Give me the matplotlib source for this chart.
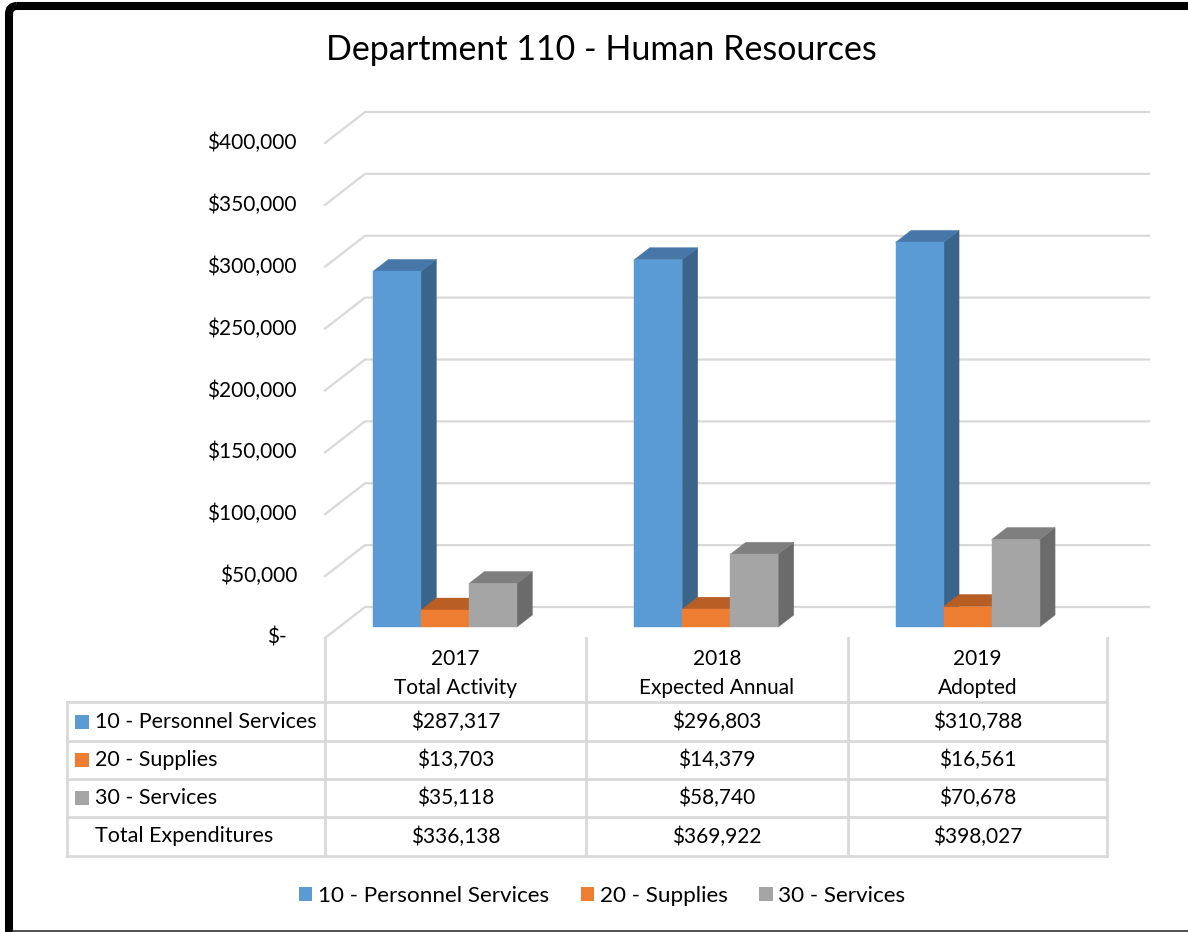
import matplotlib
matplotlib.use("Agg")
import matplotlib.pyplot as plt
from matplotlib.patches import Polygon, Patch, FancyBboxPatch
from matplotlib.transforms import blended_transform_factory

# ── data ────────────────────────────────────────────────────────────
TITLE = "Department 110 - Human Resources"
years = ["2017", "2018", "2019"]
periods = ["Total Activity", "Expected Annual", "Adopted"]
series_names = ["10 - Personnel Services", "20 - Supplies", "30 - Services"]
personnel = [287317, 296803, 310788]
supplies = [13703, 14379, 16561]
services = [35118, 58740, 70678]
totals = [336138, 369922, 398027]
y_ticks = [0, 50000, 100000, 150000, 200000, 250000, 300000, 350000, 400000]

# front / side / top shades for each series
FRONT = ["#5b9bd5", "#ed7d31", "#a5a5a5"]
SIDE = ["#3a6489", "#b35a22", "#6b6b6b"]
TOP = ["#4677a8", "#b85e24", "#7f7f7f"]
GRID = "#d9d9d9"

plt.rcParams["font.family"] = ["Lato", "DejaVu Sans"]

# ── layout (pixels) ─────────────────────────────────────────────────
W, H = 1188, 932
PLOT_L, PLOT_R = 325, 1109
PLOT_T, PLOT_B = 143, 638
CAT_PX = (PLOT_R - PLOT_L) / len(years)
VMAX = y_ticks[-1]
PX_PER_VAL = (PLOT_B - PLOT_T) / VMAX

# oblique depth offset of the back wall
DX = 40 / CAT_PX
DY = 31 / PX_PER_VAL
BAR_W = 48 / CAT_PX
BAR_X0 = 0.129
D_FRONT, D_BACK = 0.355, 0.742

FS = 15

fig = plt.figure(figsize=(W / 100, H / 100), dpi=100)

# full-figure overlay in pixel coordinates for frame, table, title
bg = fig.add_axes([0, 0, 1, 1])
bg.set_xlim(0, W)
bg.set_ylim(H, 0)
bg.axis("off")

ax = fig.add_axes([PLOT_L / W, 1 - PLOT_B / H,
                   (PLOT_R - PLOT_L) / W, (PLOT_B - PLOT_T) / H])
ax.set_xlim(0, len(years))
ax.set_ylim(0, VMAX)
ax.axis("off")
ax.patch.set_alpha(0)


def proj(x, v, d):
    return (x + d * DX, v + d * DY)


# walls: diagonal on the side wall, then horizontal along the back
for v in y_ticks:
    pts = [proj(0, v, 0), proj(0, v, 1), proj(len(years), v, 1)]
    ax.plot([p[0] for p in pts], [p[1] for p in pts], color=GRID,
            lw=1.6, clip_on=False, zorder=1, solid_joinstyle="miter")

# y labels
ylab_tr = blended_transform_factory(ax.transAxes, ax.transData)
for v in y_ticks:
    label = f"${v:,.0f}" if v else "$-"
    off = 28 if v else 38
    ax.text(-off / (PLOT_R - PLOT_L), v, label, transform=ylab_tr,
            ha="right", va="center", fontsize=FS, color="black")

# 3-D columns
values = [personnel, supplies, services]
z = 3
for i in range(len(years)):
    for s, vals in enumerate(values):
        v = vals[i]
        x0 = i + BAR_X0 + s * BAR_W
        x1 = x0 + BAR_W
        side = [proj(x1, 0, D_FRONT), proj(x1, 0, D_BACK),
                proj(x1, v, D_BACK), proj(x1, v, D_FRONT)]
        top = [proj(x0, v, D_FRONT), proj(x1, v, D_FRONT),
               proj(x1, v, D_BACK), proj(x0, v, D_BACK)]
        front = [proj(x0, 0, D_FRONT), proj(x1, 0, D_FRONT),
                 proj(x1, v, D_FRONT), proj(x0, v, D_FRONT)]
        for poly, col in ((side, SIDE[s]), (top, TOP[s]), (front, FRONT[s])):
            ax.add_patch(Polygon(poly, closed=True, fc=col, ec=col, lw=0.3,
                                 zorder=z, clip_on=False))
        z += 1

# ── data table ──────────────────────────────────────────────────────
TBL_L = 67
col_edges = [PLOT_L + k * CAT_PX for k in range(len(years) + 1)]
col_edges[-1] -= 2
row_edges = [702, 741, 779, 817, 856]
TBL_TOP = PLOT_B
for x in col_edges:
    bg.plot([x, x], [TBL_TOP, row_edges[-1]], color=GRID, lw=2)
bg.plot([TBL_L, TBL_L], [row_edges[0], row_edges[-1]], color=GRID, lw=2)
for y in row_edges:
    bg.plot([TBL_L, col_edges[-1]], [y, y], color=GRID, lw=2)

for i in range(len(years)):
    cx = (col_edges[i] + col_edges[i + 1]) / 2
    bg.text(cx, 659, years[i], ha="center", va="center", fontsize=FS)
    bg.text(cx, 688, periods[i], ha="center", va="center", fontsize=FS)

row_labels = series_names + ["Total Expenditures"]
row_values = values + [totals]
for r, (lab, vals) in enumerate(zip(row_labels, row_values)):
    cy = (row_edges[r] + row_edges[r + 1]) / 2
    if r < len(FRONT):
        bg.add_patch(plt.Rectangle((75, cy - 7), 14, 14, fc=FRONT[r], ec="none"))
    bg.text(95, cy, lab, ha="left", va="center", fontsize=15.5)
    for i, v in enumerate(vals):
        cx = (col_edges[i] + col_edges[i + 1]) / 2
        bg.text(cx, cy, f"${v:,.0f}", ha="center", va="center", fontsize=FS)

# ── title & legend ──────────────────────────────────────────────────
bg.text(601, 50, TITLE, ha="center", va="center", fontsize=24.5)

handles = [Patch(fc=c, ec="none") for c in FRONT]
fig.legend(handles, series_names, loc="center", ncol=3,
           bbox_to_anchor=(602 / W, 1 - 896 / H), frameon=False,
           fontsize=16.2, handlelength=0.6, handleheight=0.6,
           handletextpad=0.25, columnspacing=1.4)

# ── frame ───────────────────────────────────────────────────────────
bg.add_patch(FancyBboxPatch((9, 6), W + 100, H + 100,
                            boxstyle="round,pad=0,rounding_size=8",
                            fc="none", ec="black", lw=5.8))
bg.plot([13, W], [930.5, 930.5], color="#333333", lw=1.2)

fig.savefig("out.png", dpi=100)
